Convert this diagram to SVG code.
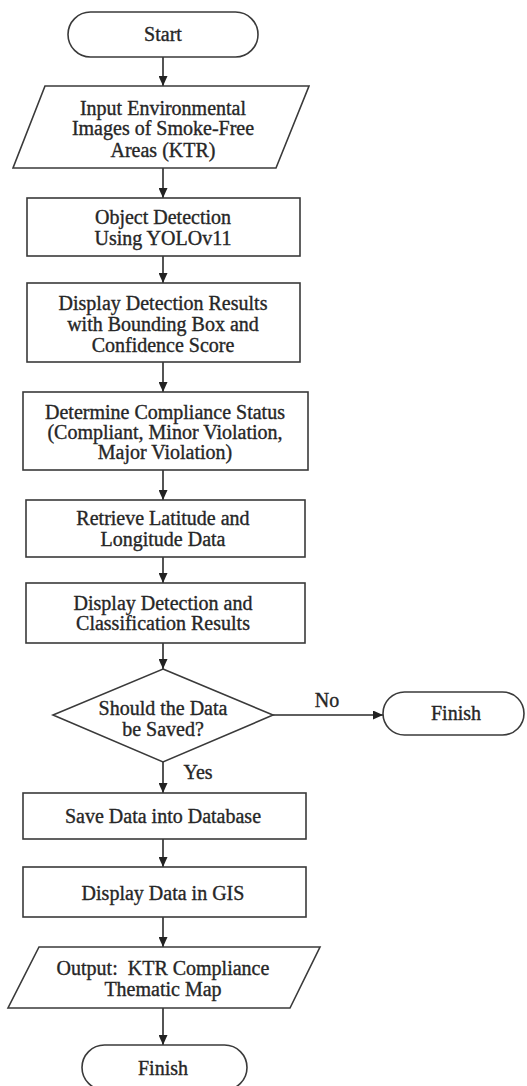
<svg xmlns="http://www.w3.org/2000/svg" width="527" height="1086" viewBox="0 0 527 1086">
<defs>
<marker id="arr" markerUnits="userSpaceOnUse" markerWidth="10" markerHeight="9" refX="10" refY="4.5" orient="auto">
<path d="M0,0 L10,4.5 L0,9 z" fill="#222"/>
</marker>
<style>
.s{fill:#fff;stroke:#3a3a3a;stroke-width:1.6}
.t{font-family:"Liberation Serif","Times New Roman",serif;font-size:20px;fill:#262626;stroke:#262626;stroke-width:0.35;text-anchor:middle}
.c{stroke:#2a2a2a;stroke-width:1.6;fill:none;marker-end:url(#arr)}
</style>
</defs>
<rect width="527" height="1086" fill="#fff"/>
<g id="connectors">
<line class="c" x1="163" y1="57" x2="163" y2="86"/>
<line class="c" x1="163" y1="168" x2="163" y2="198"/>
<line class="c" x1="163" y1="256" x2="163" y2="283"/>
<line class="c" x1="163" y1="362" x2="163" y2="392"/>
<line class="c" x1="163" y1="470" x2="163" y2="500"/>
<line class="c" x1="163" y1="557" x2="163" y2="583"/>
<line class="c" x1="163" y1="643" x2="163" y2="669"/>
<line class="c" x1="273" y1="715" x2="383" y2="715"/>
<line class="c" x1="163" y1="762" x2="163" y2="793"/>
<line class="c" x1="163" y1="839" x2="163" y2="867"/>
<line class="c" x1="163" y1="917" x2="163" y2="947"/>
<line class="c" x1="163" y1="1008" x2="163" y2="1045"/>
<text class="t" x="327" y="707">No</text>
<text class="t" x="198" y="779">Yes</text>
</g>
<g id="start">
<rect class="s" x="68" y="12" width="190" height="45" rx="22.5"/>
<text class="t" x="163" y="41">Start</text>
</g>
<g id="input">
<polygon class="s" points="45,86 309,86 276,168 13,168"/>
<text class="t" x="163" y="114.5">Input Environmental</text>
<text class="t" x="163" y="135">Images of Smoke-Free</text>
<text class="t" x="163" y="156.5">Areas (KTR)</text>
</g>
<g id="detect">
<rect class="s" x="27" y="198" width="273" height="58"/>
<text class="t" x="163" y="223.5">Object Detection</text>
<text class="t" x="163" y="244.5">Using YOLOv11</text>
</g>
<g id="display1">
<rect class="s" x="27" y="283" width="273" height="79"/>
<text class="t" x="163" y="309.5">Display Detection Results</text>
<text class="t" x="163" y="330.5">with Bounding Box and</text>
<text class="t" x="163" y="351.5">Confidence Score</text>
</g>
<g id="determine">
<rect class="s" x="23" y="392" width="285" height="78"/>
<text class="t" x="165" y="418.5">Determine Compliance Status</text>
<text class="t" x="165" y="438.5">(Compliant, Minor Violation,</text>
<text class="t" x="165" y="458.5">Major Violation)</text>
</g>
<g id="retrieve">
<rect class="s" x="26" y="500" width="279" height="57"/>
<text class="t" x="163" y="524.5">Retrieve Latitude and</text>
<text class="t" x="163" y="545.5">Longitude Data</text>
</g>
<g id="display2">
<rect class="s" x="26" y="583" width="279" height="60"/>
<text class="t" x="163" y="609.5">Display Detection and</text>
<text class="t" x="163" y="629.5">Classification Results</text>
</g>
<g id="decision">
<polygon class="s" points="163,669 273,715 163,762 53,715"/>
<text class="t" x="163" y="714.5">Should the Data</text>
<text class="t" x="163" y="735.5">be Saved?</text>
</g>
<g id="finish1">
<rect class="s" x="383" y="692" width="141" height="43" rx="21.5"/>
<text class="t" x="456" y="719.5">Finish</text>
</g>
<g id="save">
<rect class="s" x="23" y="793" width="283" height="46"/>
<text class="t" x="163" y="822.5">Save Data into Database</text>
</g>
<g id="gis">
<rect class="s" x="23" y="867" width="283" height="50"/>
<text class="t" x="163" y="899.5">Display Data in GIS</text>
</g>
<g id="output">
<polygon class="s" points="39,947 320,947 290,1008 8,1008"/>
<text class="t" x="163" y="974.5">Output:&#160; KTR Compliance</text>
<text class="t" x="163" y="995.5">Thematic Map</text>
</g>
<g id="finish2">
<rect class="s" x="82" y="1045" width="165" height="45" rx="22.5"/>
<text class="t" x="163" y="1074.5">Finish</text>
</g>
</svg>
